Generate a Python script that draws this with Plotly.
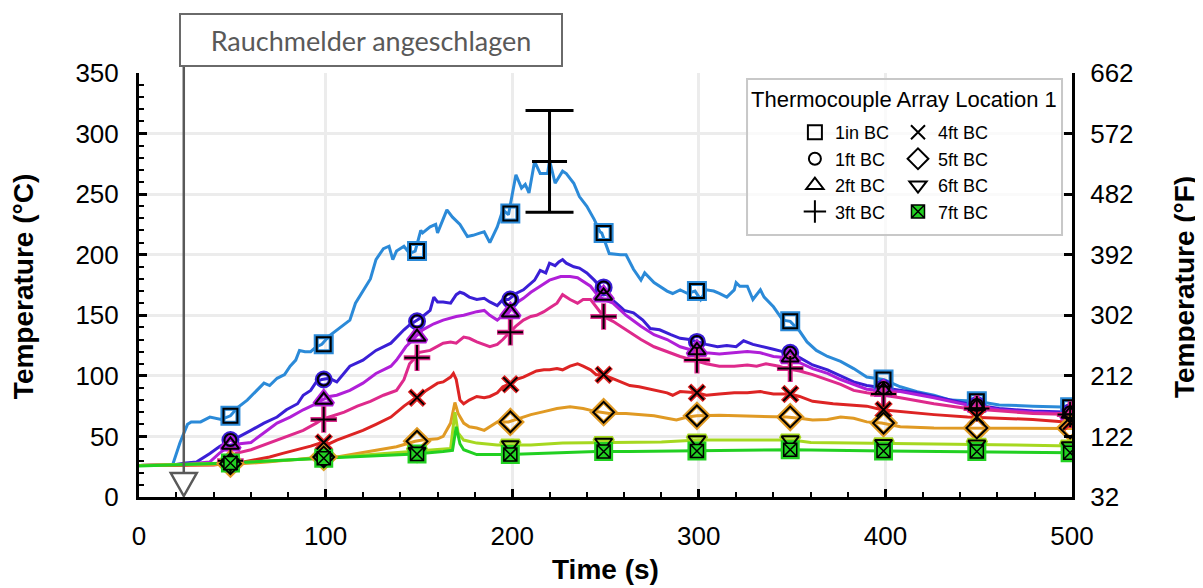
import plotly.graph_objects as go

# ---------------- data ----------------
names = ["1in BC", "1ft BC", "2ft BC", "3ft BC", "4ft BC", "5ft BC", "6ft BC", "7ft BC"]
colors = ["#2b8ad8", "#3a1fd6", "#b01fd8", "#de2a8c", "#dd2424", "#e09a24", "#a6d820", "#22d022"]
symbols = ["square-open", "circle-open", "triangle-up-open", "cross-thin-open",
           "x-thin-open", "diamond-open", "triangle-down-open", "square-x"]

t_1in = [0, 10, 18, 22, 26, 28, 33, 38, 44, 49, 53, 58, 62, 67, 70, 74, 78, 81, 84, 86, 89, 92, 95, 98,
         102, 106, 110, 113, 116, 120, 124, 127, 131, 134, 136, 138, 142, 145, 148, 151, 152, 156, 159,
         160, 165, 168, 172, 176, 179, 183, 185, 188, 192, 195, 198, 202, 205, 207, 209, 212, 215, 219,
         220, 223, 227, 229, 233, 236, 240, 244, 247, 248, 252, 258, 261, 265, 269, 271, 276, 283, 286,
         290, 294, 298, 301, 304, 308, 311, 315, 319, 320, 322, 326, 329, 333, 335, 340, 345, 349, 354,
         358, 363, 369, 376, 383, 390, 399, 408, 417, 426, 435, 449, 461, 479, 500]
v_1in = [26, 26, 26.5, 45, 60, 62, 62, 66, 64, 67, 74, 80, 86, 94, 92, 98, 101, 108, 113, 121, 120, 120,
         124, 126, 133, 138, 143, 146, 160, 170, 180, 196, 205, 207, 196, 203, 207, 201, 203, 220, 218,
         223, 225, 218, 237, 231, 225, 215, 216, 218, 219, 210, 223, 237, 233, 266, 255, 258, 251, 277,
         267, 267, 278, 259, 269, 267, 259, 248, 240, 229, 219, 218, 201, 200, 200, 188, 179, 185, 177,
         170, 168, 171, 168, 170, 163, 171, 170, 168, 165, 171, 177, 174, 174, 163, 171, 165, 157, 146,
         145, 137, 128, 121, 116, 112, 106, 99, 97, 91, 87, 84, 80, 79, 76, 75, 74]

t_1ft = [0, 18, 25, 31, 38, 43, 49, 54, 60, 67, 74, 79, 85, 88, 92, 95, 98, 102, 106, 110, 113, 120, 127,
         135, 138, 142, 145, 148, 152, 156, 158, 160, 163, 167, 170, 172, 174, 177, 181, 185, 188, 192,
         195, 198, 202, 206, 210, 212, 215, 218, 220, 223, 225, 227, 229, 233, 236, 240, 244, 247, 248,
         252, 258, 260, 265, 270, 274, 279, 285, 290, 295, 299, 304, 310, 315, 320, 324, 329, 335, 340,
         345, 349, 354, 361, 369, 376, 383, 390, 399, 408, 417, 426, 435, 444, 453, 461, 479, 500]
v_1ft = [26, 26.4, 28, 29, 36, 41.5, 47, 50, 55, 61, 66, 72, 77, 84, 88, 95, 97, 98, 95, 102, 108, 113,
         121, 127, 132, 138, 142, 145, 149, 154, 165, 161, 161, 160, 167, 169, 168, 165, 163, 164, 161,
         158, 163, 163, 168, 171, 176, 179, 187, 185, 193, 191, 194, 196, 193, 190, 189, 185, 179, 174,
         172, 165, 157, 154, 152, 146, 139, 138, 134, 131, 130, 128, 126, 124, 125, 124, 129, 126, 124,
         122, 120, 119, 115, 109, 105, 100, 95, 92, 90, 88, 86, 83, 80, 77, 75, 73, 71, 70]

t_2ft = [0, 25, 32, 38, 43, 49, 54, 60, 67, 74, 81, 88, 95, 98, 102, 106, 113, 120, 127, 135, 138, 143,
         147, 148, 152, 158, 163, 170, 174, 181, 185, 188, 192, 195, 198, 202, 206, 210, 215, 220, 226,
         231, 235, 238, 242, 245, 249, 254, 261, 269, 276, 283, 290, 297, 304, 311, 319, 326, 333, 340,
         347, 354, 361, 369, 376, 383, 390, 399, 408, 426, 444, 461, 479, 500]
v_2ft = [26, 26.5, 28, 29, 36, 43, 44, 45, 53, 61, 66, 72, 77, 80, 83, 84, 88, 94, 102, 108, 113, 124,
         130, 132, 138, 143, 146, 149, 150, 153, 154, 150, 146, 150, 152, 160, 164, 169, 174, 179, 182,
         182, 181, 178, 174, 168, 163, 160, 150, 141, 134, 130, 124, 121, 119, 118, 119, 120, 119, 116,
         115, 111, 106, 102, 97, 93, 89, 88, 87, 82, 76, 72, 70, 68.5]

t_3ft = [0, 30, 40, 45, 52, 60, 67, 74, 81, 88, 95, 98, 102, 110, 117, 124, 131, 138, 142, 145, 148, 149,
         156, 163, 167, 170, 174, 177, 181, 185, 188, 192, 195, 198, 202, 206, 210, 213, 217, 220, 224,
         227, 231, 235, 238, 242, 245, 249, 254, 261, 269, 276, 283, 290, 297, 304, 311, 319, 326, 331,
         336, 343, 347, 354, 361, 369, 376, 383, 390, 408, 426, 444, 461, 479, 500]
v_3ft = [26, 26.5, 27, 29, 36, 39, 43, 47, 51, 55, 61, 64, 66, 70, 75, 79, 84, 88, 97, 110, 115, 119,
         121, 127, 128, 127, 132, 131, 128, 126, 124, 126, 130, 135, 141, 146, 149, 150, 153, 156, 160,
         167, 163, 160, 163, 163, 157, 149, 145, 138, 130, 124, 120, 116, 113, 110, 108, 108, 109, 108,
         110, 108, 106, 104, 101, 97, 93, 88, 86, 82, 77, 73, 71, 69, 68]

t_4ft = [0, 40, 49, 56, 63, 70, 77, 85, 92, 98, 102, 106, 113, 120, 127, 135, 142, 148, 152, 156, 160,
         163, 167, 168.5, 170, 172, 174, 177, 181, 185, 188, 192, 195, 198, 202, 206, 210, 213, 217,
         220, 224, 227, 231, 235, 238, 242, 245, 248, 252, 258, 263, 268, 276, 283, 286, 290, 299, 304,
         311, 319, 326, 333, 340, 349, 354, 361, 372, 383, 390, 398, 408, 426, 444, 461, 479, 500]
v_4ft = [26, 26.5, 28, 29, 31, 33, 36, 39, 42, 45, 44, 47, 51, 55, 60, 66, 75, 82, 86, 90, 94, 95, 99,
         102, 97, 80, 77, 80, 83, 82, 83, 86, 91, 93, 97, 99, 102, 104, 105, 105, 106, 105, 108, 110,
         108, 105, 101, 101, 99, 95, 92, 91, 88, 86, 84, 87, 86, 84, 85, 86, 86, 87, 85, 85, 83, 79, 77,
         76, 75, 72, 70.5, 68, 66, 65, 64, 61.5]

t_5ft = [0, 50, 70, 98, 106, 117, 127, 138, 148, 152, 160, 163, 167, 169.3, 171, 174, 177, 181, 185,
         188, 192, 198, 202, 210, 217, 224, 231, 238, 245, 248, 252, 261, 276, 283, 288, 294, 299, 311,
         326, 340, 347, 354, 361, 369, 376, 383, 390, 398, 408, 426, 461, 500]
v_5ft = [26, 27, 29, 33, 33, 36, 39, 41.5, 46, 47, 48, 50, 61, 78, 69, 61, 58, 57, 55, 58, 62, 62, 64,
         68, 70.5, 73, 74.5, 73, 70.5, 70, 69, 69, 67, 65, 63.5, 66, 67, 67.5, 67, 66, 66, 65, 63.5, 64,
         66, 65, 62, 61, 58, 57, 57, 56.5]

t_6ft = [0, 49, 98, 148, 163, 167, 169.3, 171, 174, 181, 192, 210, 227, 245, 263, 280, 300, 330, 350,
         360, 390, 420, 450, 470, 500]
v_6ft = [26, 28, 32, 37.5, 39, 40, 70, 53, 47, 44.5, 43, 43, 44.5, 45, 45, 45.5, 47, 47, 47, 45, 44.5,
         44, 43.5, 43, 42]

t_7ft = [0, 49, 98, 148, 163, 168, 170, 172, 174, 181, 198, 220, 245, 263, 300, 350, 400, 450, 500]
v_7ft = [25.5, 28, 32, 35.5, 37.5, 38.5, 58, 44, 39, 35, 35, 36, 37.5, 37.5, 38, 39, 38, 37.5, 36.5]

marker_t = [49, 99, 149, 199, 249, 299, 349, 399, 449, 499]
m_1in = [67, 126, 203, 234, 218, 170, 145, 97, 79, 74]
m_1ft = [47, 97, 145, 163, 173, 128, 119, 90, 76, 70]
m_2ft = [43, 80, 132, 152, 166, 121, 115, 88, 75, 68.5]
m_3ft = [30, 64, 115, 136, 149, 113, 106, 85, 73, 68]
m_4ft = [28, 45, 82, 93, 101, 86, 85, 72, 66, 61.5]
m_5ft = [27.5, 33, 46, 62, 70, 67, 66, 61, 57, 57]
m_6ft = [28, 32, 37.5, 43, 45, 47, 47, 44, 43.5, 42]
m_7ft = [28, 32, 35.5, 35, 37.5, 38, 39, 38, 37.5, 36.5]

err_t = [220]
err_v = [277]
err_pm = [42]

alarm_t = 24  # smoke detector activation time (s)

series_t = [t_1in, t_1ft, t_2ft, t_3ft, t_4ft, t_5ft, t_6ft, t_7ft]
series_v = [v_1in, v_1ft, v_2ft, v_3ft, v_4ft, v_5ft, v_6ft, v_7ft]
series_m = [m_1in, m_1ft, m_2ft, m_3ft, m_4ft, m_5ft, m_6ft, m_7ft]
msizes = [14, 12, 15, 18, 14, 16, 15, 13]

FONT = "Liberation Sans, Arial, sans-serif"

fig = go.Figure()

# lines
for i in range(8):
    fig.add_trace(go.Scatter(x=series_t[i], y=series_v[i], mode="lines",
                             line=dict(color=colors[i], width=3), showlegend=False,
                             hoverinfo="skip"))

# marker halos (series colour) then black markers
for i in range(8):
    fig.add_trace(go.Scatter(x=marker_t, y=series_m[i], mode="markers", showlegend=False,
                             marker=dict(symbol=symbols[i], size=msizes[i] + 1,
                                         color=colors[i],
                                         line=dict(color=colors[i], width=5)),
                             hoverinfo="skip"))
for i in range(8):
    if i == 7:
        mk = dict(symbol=symbols[i], size=msizes[i], color=colors[i],
                  line=dict(color="black", width=1.5))
    else:
        mk = dict(symbol=symbols[i], size=msizes[i], color="black",
                  line=dict(color="black", width=2))
    fig.add_trace(go.Scatter(x=marker_t, y=series_m[i], mode="markers", name=names[i],
                             marker=mk, legend="legend" if i < 4 else "legend2"))

# error bar at peak
fig.add_trace(go.Scatter(x=err_t, y=err_v, mode="markers", showlegend=False,
                         marker=dict(symbol="line-ew-open", size=25, color="black",
                                     line=dict(color="black", width=3)),
                         error_y=dict(type="data", array=err_pm, visible=True,
                                      color="black", thickness=3, width=24)))

# Fahrenheit axis helper trace (invisible)
fig.add_trace(go.Scatter(x=[0], y=[32], yaxis="y2", mode="markers",
                         marker=dict(opacity=0), showlegend=False, hoverinfo="skip"))

GRID = "#ececec"
fig.update_layout(
    width=1195, height=580,
    margin=dict(l=131, r=131, t=65, b=91),
    paper_bgcolor="white", plot_bgcolor="white",
    font=dict(family=FONT, size=26, color="black"),
    xaxis=dict(range=[0, 500], dtick=100, tick0=0, showgrid=True, gridcolor=GRID, gridwidth=3,
               showline=True, linecolor="black", linewidth=3, ticks="inside", ticklen=8,
               tickwidth=2.5, tickcolor="black", zeroline=False,
               ticklabelstandoff=14,
               minor=dict(dtick=20, ticks="inside", ticklen=5, tickwidth=2, tickcolor="black",
                          showgrid=False),
               tickfont=dict(size=26)),
    yaxis=dict(range=[0, 350], dtick=50, tick0=0, showgrid=True, gridcolor=GRID, gridwidth=3,
               showline=True, linecolor="black", linewidth=3, ticks="inside", ticklen=8,
               tickwidth=2.5, tickcolor="black", zeroline=False,
               ticklabelstandoff=12,
               minor=dict(dtick=10, ticks="inside", ticklen=5, tickwidth=2, tickcolor="black",
                          showgrid=False),
               tickfont=dict(size=26)),
    yaxis2=dict(range=[32, 662], tick0=32, dtick=90, overlaying="y", side="right",
                showgrid=False, showline=True, linecolor="black", linewidth=3, ticks="inside",
                ticklen=8, tickwidth=2.5, tickcolor="black", zeroline=False,
                ticklabelstandoff=10, tickfont=dict(size=26)),
    legend=dict(x=0.703, y=0.903, xanchor="left", yanchor="top", bgcolor="rgba(0,0,0,0)",
                borderwidth=0, font=dict(size=18), itemsizing="trace", tracegroupgap=0),
    legend2=dict(x=0.8135, y=0.903, xanchor="left", yanchor="top", bgcolor="rgba(0,0,0,0)",
                 borderwidth=0, font=dict(size=18), itemsizing="trace", tracegroupgap=0),
    showlegend=True,
)

# legend frame and title
fig.add_shape(type="rect", xref="paper", yref="paper", x0=0.6517, x1=0.9893, y0=0.6179, y1=0.9858,
              line=dict(color="#c8c8c8", width=2), fillcolor="rgba(255,255,255,0.75)", layer="above")
fig.add_annotation(text="Thermocouple Array Location 1", xref="paper", yref="paper",
                   x=0.8204, y=0.938, xanchor="center", yanchor="middle", showarrow=False,
                   font=dict(size=22, family=FONT, color="black"))

# axis titles
fig.add_annotation(text="<b>Time (s)</b>", xref="paper", yref="paper", x=0.5, y=-0.172,
                   xanchor="center", yanchor="middle", showarrow=False, font=dict(size=28))
fig.add_annotation(text="<b>Temperature (°C)</b>", xref="paper", yref="paper", x=-0.1243, y=0.495,
                   xanchor="center", yanchor="middle", textangle=-90, showarrow=False,
                   font=dict(size=28))
fig.add_annotation(text="<b>Temperature (°F)</b>", xref="paper", yref="paper", x=1.12, y=0.495,
                   xanchor="center", yanchor="middle", textangle=-90, showarrow=False,
                   font=dict(size=28))

# smoke alarm marker: vertical line, open triangle, labelled box
fig.add_shape(type="line", xref="x", yref="paper", x0=alarm_t, x1=alarm_t, y0=0.057, y1=1.014,
              line=dict(color="#595959", width=2.5), layer="above")
fig.add_shape(type="path", xref="x", yref="y", xsizemode="pixel", ysizemode="pixel",
              xanchor=alarm_t, yanchor=0, path="M -13 24 L 13 24 L 0 1 Z",
              line=dict(color="#595959", width=2.5), fillcolor="white", layer="above")
fig.add_annotation(text="Rauchmelder angeschlagen", xref="x", yref="paper", x=21.4, y=1.0142,
                   xanchor="left", yanchor="bottom", showarrow=False, width=380, height=50,
                   align="center", valign="middle", bordercolor="#6a6a6a", borderwidth=2,
                   borderpad=0, bgcolor="white",
                   font=dict(family="Lato, Open Sans, sans-serif", size=27, color="#595959"))

fig.write_html("out.html")
